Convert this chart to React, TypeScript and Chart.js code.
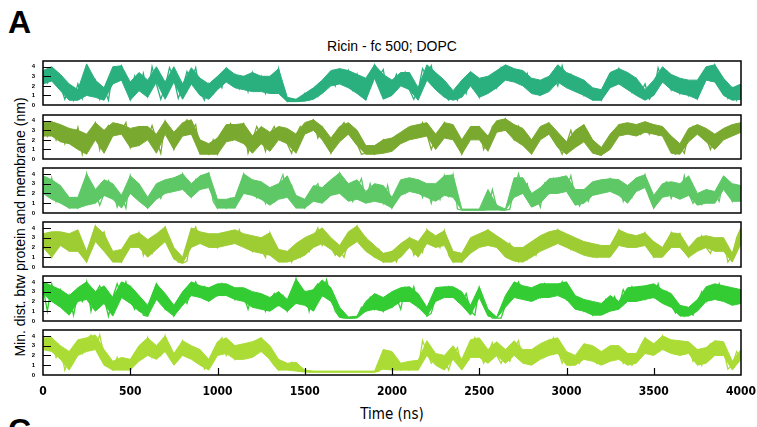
import React, { useEffect, useRef } from "react";
import { Chart, registerables } from "chart.js";

Chart.register(...registerables);

// ---------- data ----------
const TITLE = "Ricin - fc 500; DOPC";
const X_TITLE = "Time (ns)";
const Y_TITLE = "Min. dist. btw protein and membrane (nm)";
const TIME_STEP_NS = 25; // sampling of the raw traces
const ENV_STEP_NS = 50; // sampling of the read-off band envelopes
const X_TICKS = [0, 500, 1000, 1500, 2000, 2500, 3000, 3500, 4000];
const Y_TICKS = [0, 1, 2, 3, 4];

// raw traces (nm), every 25 ns
const SERIES_1 = [
  3.0, 2.3, 3.8, 2.8, 2.0, 0.6, 1.8, 0.5, 2.2, 0.7,
  3.9, 1.5, 2.6, 0.6, 1.8, 0.5, 3.6, 2.8, 4.1, 2.5,
  0.6, 3.0, 1.6, 3.3, 1.0, 4.0, 2.2, 0.6, 1.9, 3.9,
  2.8, 0.7, 1.8, 3.5, 2.4, 3.9, 1.4, 0.5, 2.2, 1.2,
  2.8, 1.8, 3.8, 2.6, 3.2, 1.7, 2.9, 1.4, 3.4, 1.9,
  3.0, 1.2, 2.6, 1.5, 3.8, 1.0, 0.4, 0.5, 0.4, 0.5,
  1.2, 0.5, 1.6, 0.9, 2.3, 1.8, 3.3, 2.0, 3.7, 2.4,
  3.6, 1.6, 3.2, 1.3, 0.6, 2.8, 4.2, 3.0, 3.7, 1.0,
  1.8, 3.2, 2.2, 3.4, 1.6, 0.6, 1.5, 3.8, 3.0, 4.1,
  2.0, 2.8, 1.0, 0.5, 1.3, 0.5, 2.4, 1.2, 3.3, 2.0,
  0.8, 2.6, 1.4, 2.9, 1.8, 3.9, 3.0, 3.7, 2.8, 3.6,
  2.2, 3.3, 1.5, 2.5, 1.1, 2.7, 1.6, 3.0, 2.0, 4.1,
  2.4, 3.2, 1.5, 2.5, 1.0, 2.0, 0.6, 1.5, 0.5, 2.0,
  3.2, 2.2, 3.8, 2.6, 3.3, 1.4, 2.7, 1.2, 2.2, 0.6,
  1.3, 3.9, 2.6, 3.5, 1.6, 2.8, 1.2, 2.4, 1.0, 2.2,
  0.7, 2.5, 3.6, 2.6, 4.2, 3.0, 2.2, 0.7, 1.8, 0.5,
  1.8,
];
const SERIES_2 = [
  3.6, 2.4, 3.8, 2.0, 3.4, 1.6, 3.1, 1.8, 3.3, 0.5,
  2.4, 3.0, 3.8, 1.0, 2.8, 3.5, 2.6, 3.6, 2.9, 3.8,
  1.2, 2.6, 1.5, 3.3, 2.2, 3.5, 2.0, 0.6, 3.9, 2.5,
  1.0, 2.8, 3.5, 4.1, 3.0, 3.6, 0.6, 1.2, 0.5, 2.0,
  0.5, 1.5, 3.0, 3.7, 2.2, 3.0, 3.7, 0.6, 2.0, 3.4,
  2.4, 0.8, 2.6, 3.4, 2.2, 3.2, 1.6, 0.6, 2.5, 3.4,
  2.8, 3.8, 4.1, 2.2, 3.3, 1.8, 0.6, 1.8, 3.2, 3.8,
  2.6, 3.0, 1.6, 0.5, 0.6, 1.2, 0.5, 1.4, 2.0, 0.8,
  1.5, 2.4, 1.8, 3.0, 2.2, 3.3, 2.5, 3.8, 2.6, 1.0,
  2.2, 3.0, 3.8, 2.4, 3.2, 2.0, 0.5, 1.8, 3.0, 2.2,
  3.3, 1.0, 2.0, 3.4, 3.9, 3.0, 4.2, 3.2, 2.0, 3.4,
  1.6, 2.0, 0.6, 1.8, 3.2, 2.6, 3.7, 2.4, 1.5, 0.5,
  1.6, 3.0, 1.5, 2.8, 3.5, 1.8, 1.0, 0.5, 0.4, 1.2,
  2.4, 1.8, 3.5, 2.6, 3.6, 2.8, 3.4, 2.6, 3.8, 2.6,
  3.4, 2.5, 3.2, 2.2, 0.8, 0.5, 1.4, 0.6, 2.6, 3.4,
  2.8, 3.2, 2.2, 1.0, 2.4, 2.0, 3.0, 2.5, 3.5, 2.8,
  3.8,
];
const SERIES_3 = [
  3.0, 2.0, 3.6, 1.2, 2.6, 1.0, 0.5, 1.4, 0.5, 1.6,
  4.0, 1.2, 2.2, 0.8, 2.0, 3.3, 2.4, 0.6, 1.8, 0.5,
  3.8, 2.2, 2.9, 1.2, 0.5, 1.0, 2.2, 1.5, 3.0, 2.2,
  3.5, 2.6, 4.0, 2.0, 1.6, 3.4, 2.6, 3.8, 4.1, 1.2,
  0.5, 1.3, 0.5, 1.5, 0.6, 2.4, 4.0, 2.4, 3.3, 1.6,
  2.8, 1.0, 2.2, 1.2, 2.8, 3.9, 1.8, 2.8, 0.6, 1.2,
  0.5, 1.4, 2.4, 3.0, 1.2, 2.3, 2.0, 3.2, 4.1, 1.8,
  2.8, 1.2, 2.5, 3.5, 1.2, 3.0, 1.5, 2.6, 1.0, 2.8,
  0.5, 1.4, 2.8, 2.0, 3.5, 2.4, 3.3, 1.6, 2.8, 1.0,
  2.6, 1.4, 3.8, 1.8, 3.9, 0.4, 0.3, 0.3, 0.3, 0.3,
  0.3, 0.3, 0.4, 2.4, 0.6, 0.3, 0.3, 0.4, 2.5, 4.0,
  2.4, 3.0, 0.8, 1.8, 0.6, 3.0, 2.0, 3.5, 2.2, 3.2,
  2.4, 3.8, 1.6, 0.7, 2.0, 1.2, 2.6, 2.0, 3.3, 2.2,
  3.5, 2.4, 3.2, 1.2, 2.6, 1.6, 3.4, 2.6, 3.9, 1.6,
  0.5, 1.4, 2.8, 3.2, 1.5, 2.6, 1.6, 3.8, 2.0, 1.0,
  1.8, 0.9, 2.2, 1.2, 2.0, 1.2, 3.6, 2.8, 1.2, 2.6,
  1.6,
];
const SERIES_4 = [
  3.0, 2.2, 1.0, 3.5, 2.4, 3.0, 1.8, 3.4, 2.2, 1.2,
  0.5, 2.8, 4.2, 3.0, 3.6, 1.6, 0.6, 1.2, 0.5, 2.4,
  3.0, 2.2, 3.5, 1.2, 2.6, 1.4, 2.8, 3.4, 4.1, 1.8,
  1.0, 0.5, 0.4, 0.6, 3.2, 4.1, 2.8, 3.4, 2.2, 3.0,
  2.0, 3.2, 2.4, 3.5, 2.6, 3.8, 2.2, 3.0, 1.6, 2.8,
  1.8, 1.0, 3.5, 2.2, 1.0, 0.6, 1.4, 0.5, 1.6, 1.0,
  2.6, 1.6, 3.0, 4.0, 2.2, 2.8, 2.0, 1.2, 1.8, 1.0,
  2.6, 3.5, 4.2, 2.4, 3.0, 1.6, 1.0, 1.8, 0.5, 1.2,
  1.6, 0.5, 1.6, 2.4, 3.0, 1.2, 2.2, 1.5, 3.8, 2.6,
  3.0, 2.0, 3.7, 1.2, 0.5, 1.3, 0.5, 1.2, 2.0, 3.0,
  2.2, 3.4, 3.8, 2.4, 3.0, 2.0, 1.2, 2.4, 1.0, 0.5,
  1.8, 0.8, 2.2, 1.2, 3.0, 2.2, 3.4, 2.6, 3.8, 2.6,
  3.2, 1.8, 2.8, 1.5, 2.4, 1.2, 2.0, 1.0, 1.8, 1.2,
  2.0, 2.8, 3.8, 2.4, 3.2, 2.2, 3.0, 2.4, 3.5, 1.8,
  1.0, 2.2, 1.2, 1.8, 3.5, 2.2, 3.4, 1.6, 1.0, 1.8,
  2.4, 3.2, 2.0, 1.4, 2.6, 1.8, 2.8, 0.5, 1.2, 3.0,
  4.0,
];
const SERIES_5 = [
  3.4, 1.0, 3.8, 2.2, 3.2, 1.2, 2.6, 0.6, 2.8, 2.0,
  4.0, 1.0, 2.8, 3.6, 2.4, 0.5, 2.4, 3.8, 2.6, 4.0,
  2.2, 1.2, 2.4, 0.6, 0.5, 2.6, 3.8, 2.8, 1.2, 2.0,
  0.5, 1.6, 2.8, 1.8, 3.2, 4.0, 2.8, 3.5, 2.2, 3.2,
  2.6, 3.8, 2.8, 3.4, 2.2, 3.2, 2.6, 1.2, 2.8, 1.6,
  2.6, 1.0, 2.0, 2.8, 1.6, 2.6, 1.0, 1.8, 4.3, 2.2,
  3.0, 1.0, 3.2, 3.8, 2.6, 4.2, 2.4, 1.0, 0.4, 0.3,
  0.3, 0.3, 0.4, 1.4, 1.0, 2.4, 1.2, 2.2, 1.0, 2.6,
  1.4, 2.4, 1.2, 3.4, 2.2, 3.5, 1.4, 2.0, 0.5, 0.8,
  2.4, 3.4, 2.6, 3.5, 2.6, 3.2, 1.8, 2.8, 1.0, 0.6,
  3.4, 1.6, 0.8, 0.3, 0.3, 0.3, 1.6, 2.4, 3.2, 4.0,
  2.6, 3.4, 2.2, 3.2, 2.4, 3.8, 2.8, 3.6, 2.8, 4.0,
  2.2, 3.0, 1.5, 2.0, 1.0, 1.8, 0.6, 1.6, 0.8, 2.2,
  1.2, 2.5, 1.5, 3.2, 2.2, 3.5, 2.6, 3.4, 2.2, 3.0,
  2.4, 3.8, 2.0, 3.0, 1.6, 0.8, 1.4, 0.5, 1.2, 0.6,
  1.8, 3.0, 2.0, 3.5, 2.4, 3.8, 2.2, 3.4, 1.8, 3.2,
  2.4,
];
const SERIES_6 = [
  3.2, 2.6, 3.8, 1.8, 2.8, 0.5, 1.8, 2.4, 3.4, 2.2,
  3.6, 4.1, 2.8, 4.1, 2.0, 1.0, 0.5, 1.8, 0.6, 1.2,
  0.5, 1.4, 2.8, 1.8, 3.8, 1.8, 2.8, 2.0, 4.0, 2.6,
  1.2, 2.4, 3.5, 2.2, 2.8, 1.4, 2.4, 0.6, 1.2, 2.4,
  3.2, 3.8, 2.0, 2.8, 1.6, 2.6, 1.8, 3.0, 2.2, 3.4,
  3.8, 2.4, 1.6, 1.0, 0.5, 1.2, 0.6, 1.3, 0.5, 0.4,
  0.4, 0.3, 0.3, 0.3, 0.3, 0.3, 0.3, 0.3, 0.3, 0.3,
  0.3, 0.3, 0.3, 0.3, 0.3, 0.3, 0.3, 0.4, 2.4, 1.2,
  2.2, 1.0, 0.5, 0.8, 0.5, 1.2, 0.6, 3.5, 2.4, 1.2,
  1.8, 0.8, 1.6, 0.5, 2.0, 2.8, 0.8, 1.4, 2.4, 3.8,
  2.6, 1.2, 2.2, 3.3, 2.0, 1.2, 2.2, 1.4, 2.6, 3.5,
  1.6, 2.4, 1.2, 2.8, 1.8, 3.2, 2.2, 3.8, 2.6, 1.2,
  2.2, 1.0, 1.8, 1.2, 3.0, 1.8, 2.8, 1.2, 2.0, 1.4,
  2.8, 1.8, 2.6, 1.2, 2.0, 1.0, 1.8, 3.0, 3.8, 2.4,
  3.0, 2.6, 4.0, 3.0, 3.4, 2.2, 3.2, 2.4, 3.0, 1.4,
  2.2, 1.0, 2.6, 3.2, 2.2, 3.4, 2.6, 0.6, 1.0, 2.4,
  1.6,
];

// band envelopes (nm), every 50 ns
const LOW_1 = [
  2.2, 2.5, 1.5, 0.5, 0.5, 1.0, 0.8, 0.5, 2.2, 2.6,
  0.5, 1.5, 0.8, 2.4, 0.6, 2.4, 0.6, 2.2, 1.0, 0.6,
  1.6, 2.4, 1.8, 1.6, 1.4, 1.4, 1.2, 1.2, 0.35, 0.35,
  0.4, 0.6, 1.2, 2.0, 2.2, 1.8, 1.2, 0.5, 2.8, 0.6,
  1.0, 2.0, 1.6, 0.5, 2.6, 1.6, 0.8, 0.5, 0.8, 2.0,
  0.8, 1.2, 1.8, 2.6, 2.4, 2.0, 1.2, 1.0, 1.4, 2.4,
  1.8, 1.4, 1.0, 0.5, 0.5, 1.8, 2.2, 1.6, 1.0, 0.5,
  1.0, 2.4, 1.6, 1.2, 1.0, 0.6, 2.6, 2.4, 1.0, 0.5,
  0.6,
];
const HIGH_1 = [
  3.6, 4.0, 3.2, 2.2, 1.6, 4.3, 2.6, 1.8, 4.0, 4.1,
  2.4, 3.4, 2.6, 4.0, 2.4, 4.0, 2.2, 3.9, 2.8, 2.2,
  3.0, 3.9, 3.2, 3.0, 3.4, 3.0, 3.0, 3.8, 0.8, 0.6,
  1.2, 1.8, 2.6, 3.6, 3.8, 3.6, 3.2, 2.8, 4.2, 3.2,
  2.6, 3.4, 3.4, 1.8, 4.2, 3.4, 2.6, 1.5, 2.6, 3.5,
  2.8, 3.0, 3.6, 4.2, 3.8, 3.6, 2.8, 2.6, 3.0, 4.2,
  3.4, 3.0, 2.6, 1.8, 1.6, 3.4, 3.8, 3.4, 2.8, 1.6,
  2.6, 4.0, 3.2, 2.8, 2.6, 2.6, 4.0, 4.2, 2.8, 1.8,
  2.2,
];
const LOW_2 = [
  2.4, 2.4, 1.8, 1.6, 1.0, 0.5, 2.0, 0.6, 2.4, 2.6,
  1.2, 1.4, 2.0, 0.6, 2.6, 1.0, 2.4, 2.6, 0.5, 0.5,
  0.5, 1.8, 2.0, 1.6, 0.6, 1.6, 0.8, 2.0, 1.6, 0.6,
  2.6, 3.0, 2.0, 0.6, 1.8, 2.6, 1.4, 0.5, 0.5, 0.6,
  0.8, 1.6, 2.0, 2.2, 2.4, 1.0, 2.2, 2.0, 0.5, 2.0,
  2.0, 0.8, 2.8, 3.0, 2.0, 1.4, 0.5, 2.0, 2.6, 1.2,
  0.5, 1.2, 1.8, 0.6, 0.4, 1.0, 2.4, 2.6, 2.4, 2.8,
  2.6, 2.4, 0.6, 0.5, 1.8, 2.6, 1.8, 1.0, 2.0, 2.4,
  2.8,
];
const HIGH_2 = [
  3.8, 3.9, 3.6, 3.2, 3.0, 2.6, 3.8, 3.0, 3.8, 3.6,
  3.2, 3.4, 3.4, 2.6, 4.0, 2.8, 3.8, 4.1, 2.0, 1.6,
  2.2, 3.6, 3.6, 3.7, 2.4, 3.4, 2.8, 3.4, 3.2, 2.6,
  3.8, 4.1, 3.4, 2.2, 3.4, 3.8, 3.0, 1.4, 1.4, 2.0,
  2.2, 2.8, 3.4, 3.6, 3.8, 2.6, 3.8, 3.6, 2.0, 3.4,
  3.4, 2.4, 4.0, 4.2, 3.6, 3.2, 2.0, 3.4, 3.8, 2.8,
  1.8, 3.0, 3.6, 2.0, 1.2, 2.6, 3.6, 3.8, 3.6, 3.9,
  3.6, 3.4, 2.4, 1.6, 3.2, 3.6, 3.2, 2.6, 3.2, 3.6,
  3.8,
];
const LOW_3 = [
  2.0, 1.4, 1.0, 0.5, 0.5, 0.8, 1.0, 1.8, 1.4, 0.5,
  2.0, 1.2, 0.5, 1.4, 2.0, 2.2, 2.4, 1.6, 2.4, 2.6,
  0.5, 0.5, 0.5, 2.0, 1.8, 1.4, 0.8, 1.4, 1.6, 0.5,
  0.5, 1.2, 1.0, 1.8, 2.0, 1.2, 1.4, 1.0, 1.2, 1.0,
  0.5, 1.8, 2.2, 2.0, 1.6, 1.2, 1.8, 1.6, 0.3, 0.3,
  0.3, 0.3, 0.3, 0.3, 1.6, 2.0, 0.6, 1.0, 2.0, 2.0,
  2.2, 0.8, 1.0, 1.8, 2.0, 2.2, 1.8, 1.0, 2.2, 2.6,
  0.5, 1.6, 1.8, 1.4, 1.8, 0.8, 1.0, 1.0, 2.4, 1.2,
  1.2,
];
const HIGH_3 = [
  3.8, 3.4, 2.8, 1.6, 1.6, 4.0, 2.4, 3.4, 3.0, 1.8,
  3.8, 3.0, 1.6, 3.0, 3.4, 3.6, 4.0, 3.0, 3.8, 4.1,
  1.4, 1.4, 1.6, 4.0, 3.4, 3.2, 2.6, 3.0, 3.8, 1.8,
  1.4, 2.8, 2.6, 3.4, 4.1, 3.0, 3.4, 2.2, 3.0, 2.8,
  1.6, 3.4, 3.6, 3.4, 3.0, 3.0, 3.8, 3.9, 0.4, 0.4,
  0.4, 2.4, 0.8, 0.4, 3.6, 3.6, 2.0, 2.6, 3.5, 3.6,
  3.8, 2.4, 2.4, 3.2, 3.4, 3.5, 3.4, 2.8, 3.6, 3.9,
  1.8, 3.0, 3.2, 3.0, 3.8, 2.0, 2.4, 2.2, 3.8, 3.0,
  2.8,
];
const LOW_4 = [
  2.0, 1.0, 2.2, 1.6, 1.6, 0.5, 2.6, 1.6, 0.5, 0.5,
  2.0, 2.0, 1.0, 1.8, 2.6, 0.8, 0.4, 2.0, 2.4, 2.0,
  2.0, 2.2, 2.4, 2.0, 1.6, 1.4, 1.2, 0.5, 0.5, 0.8,
  1.2, 2.0, 2.4, 1.8, 1.0, 2.0, 2.6, 1.6, 1.0, 0.5,
  0.5, 1.0, 2.0, 1.0, 2.4, 2.0, 2.2, 0.5, 0.5, 1.4,
  2.0, 2.2, 2.0, 1.0, 0.6, 0.5, 1.0, 1.6, 2.0, 2.4,
  2.0, 1.6, 1.2, 1.0, 1.0, 1.0, 2.2, 2.0, 2.0, 2.2,
  1.0, 1.0, 2.0, 2.0, 1.0, 1.6, 2.0, 1.6, 1.6, 0.5,
  2.4,
];
const HIGH_4 = [
  3.4, 3.6, 3.6, 3.4, 3.8, 1.6, 4.2, 3.4, 1.6, 1.8,
  3.2, 3.5, 2.8, 3.4, 4.1, 2.0, 1.0, 4.0, 3.6, 3.4,
  3.4, 3.6, 3.8, 3.4, 3.2, 3.0, 3.5, 1.8, 1.6, 2.4,
  3.0, 3.4, 4.0, 3.0, 2.2, 3.6, 4.2, 3.0, 2.2, 1.4,
  1.6, 2.4, 3.0, 2.6, 3.8, 3.2, 3.7, 1.6, 1.4, 3.0,
  3.4, 3.8, 3.2, 2.6, 2.0, 2.0, 2.6, 3.2, 3.6, 3.8,
  3.4, 3.0, 2.6, 2.4, 2.2, 2.2, 3.8, 3.4, 3.2, 3.5,
  2.6, 2.0, 3.5, 3.4, 2.0, 3.0, 3.2, 3.0, 3.0, 1.4,
  4.0,
];
const LOW_5 = [
  2.8, 2.0, 1.4, 0.6, 2.0, 2.2, 1.0, 1.8, 0.5, 2.4,
  1.8, 1.0, 0.5, 2.2, 1.2, 0.5, 1.6, 2.6, 2.4, 2.0,
  2.6, 2.6, 2.2, 2.0, 1.4, 1.2, 1.0, 1.6, 1.0, 1.8,
  1.6, 1.0, 2.6, 2.0, 0.4, 0.3, 0.3, 1.0, 1.2, 1.0,
  1.4, 2.0, 2.0, 1.4, 0.5, 2.0, 2.4, 2.4, 1.6, 0.6,
  2.4, 0.5, 0.3, 1.4, 2.4, 2.2, 2.0, 2.4, 2.4, 2.6,
  2.2, 1.2, 1.0, 0.6, 0.6, 1.0, 1.2, 2.0, 2.0, 2.2,
  2.4, 1.8, 1.4, 0.5, 0.5, 1.0, 2.0, 2.2, 2.0, 1.6,
  1.8,
];
const HIGH_5 = [
  4.0, 3.6, 3.2, 2.6, 3.4, 4.0, 3.0, 3.6, 2.4, 4.0,
  3.6, 2.6, 1.6, 3.8, 2.8, 1.6, 3.0, 4.0, 3.6, 3.4,
  3.8, 3.8, 3.4, 3.4, 3.0, 2.8, 2.4, 3.0, 2.2, 4.3,
  3.0, 3.2, 4.2, 3.4, 1.4, 0.4, 0.5, 2.0, 2.8, 2.4,
  3.0, 3.4, 3.5, 2.8, 1.4, 3.4, 3.5, 3.5, 3.0, 1.6,
  3.5, 1.2, 0.4, 2.6, 4.0, 3.6, 3.4, 3.8, 3.8, 3.8,
  4.0, 2.6, 2.2, 2.0, 1.8, 2.6, 2.0, 3.4, 3.5, 3.6,
  3.8, 3.2, 2.8, 1.6, 1.4, 2.2, 3.5, 3.8, 3.6, 3.4,
  3.2,
];
const LOW_6 = [
  2.6, 2.4, 1.6, 0.5, 2.0, 2.4, 2.6, 1.0, 0.5, 0.5,
  0.5, 1.4, 2.0, 1.6, 2.4, 1.0, 2.0, 1.6, 1.0, 0.5,
  2.0, 2.2, 1.6, 1.6, 1.8, 2.4, 1.6, 0.5, 0.5, 0.4,
  0.3, 0.3, 0.3, 0.3, 0.3, 0.3, 0.3, 0.3, 0.3, 0.6,
  0.5, 0.5, 0.5, 0.5, 2.0, 1.0, 0.5, 1.6, 0.5, 1.8,
  1.8, 1.2, 2.0, 1.2, 2.0, 1.2, 1.0, 1.6, 2.0, 2.2,
  1.0, 1.0, 1.6, 1.4, 1.0, 1.4, 1.6, 1.0, 1.2, 2.2,
  2.0, 2.6, 2.2, 2.0, 2.2, 1.0, 1.2, 2.0, 2.0, 0.5,
  1.6,
];
const HIGH_6 = [
  3.8, 3.8, 3.0, 2.4, 3.6, 3.8, 4.1, 2.6, 1.4, 1.8,
  1.6, 3.0, 3.8, 3.0, 4.0, 2.2, 3.5, 3.0, 2.6, 1.6,
  3.4, 3.8, 3.0, 3.2, 3.4, 3.8, 3.0, 1.6, 1.2, 1.3,
  0.5, 0.4, 0.4, 0.4, 0.4, 0.4, 0.4, 0.4, 0.4, 2.6,
  2.4, 1.2, 1.4, 1.5, 3.5, 2.2, 2.0, 3.0, 1.6, 3.6,
  3.8, 2.6, 3.4, 2.6, 3.5, 2.6, 2.6, 3.2, 3.6, 3.8,
  2.4, 2.0, 3.2, 3.0, 2.4, 3.0, 3.0, 2.2, 2.2, 3.8,
  3.2, 4.0, 3.6, 3.5, 3.4, 2.6, 2.8, 3.5, 3.4, 1.4,
  2.6,
];

const ALL_SERIES = [SERIES_1, SERIES_2, SERIES_3, SERIES_4, SERIES_5, SERIES_6];
const ALL_LOW = [LOW_1, LOW_2, LOW_3, LOW_4, LOW_5, LOW_6];
const ALL_HIGH = [HIGH_1, HIGH_2, HIGH_3, HIGH_4, HIGH_5, HIGH_6];
const SERIES_COLORS = ["#2aaf7f", "#7aa92f", "#5dc865", "#9ecd33", "#33cc33", "#aadc35"];

// ---------- layout ----------
const PANEL_TOPS = [61, 115, 168, 222, 276, 330];
const PANEL_BOTTOMS = [105, 159, 213, 267, 321, 375];
const PLOT_LEFT = 43;
const PLOT_RIGHT = 741;
const W = 757;
const PAD = 3;
const X_AXIS_H = 26;

const SANS = "'Liberation Sans', Arial, sans-serif";
const NARROW = "'Liberation Sans Narrow', 'DejaVu Sans Condensed', 'Liberation Sans', sans-serif";

const framePlugin = {
  id: "frame",
  afterDatasetsDraw(chart: any, _args: any, opts: any) {
    const { ctx, chartArea: a, scales } = chart;
    ctx.save();
    ctx.strokeStyle = "#000";
    ctx.lineWidth = 1.5;
    ctx.strokeRect(a.left, a.top, a.right - a.left, a.bottom - a.top);
    ctx.lineWidth = 1.2;
    ctx.beginPath();
    for (const v of Y_TICKS) {
      if (v === 0) continue;
      const y = Math.round(scales.y.getPixelForValue(v)) + 0.5;
      ctx.moveTo(a.left, y);
      ctx.lineTo(a.left + 8, y);
    }
    if (opts && opts.xTicks) {
      for (const v of X_TICKS) {
        if (v === X_TICKS[0] || v === X_TICKS[X_TICKS.length - 1]) continue;
        const x = Math.round(scales.x.getPixelForValue(v)) + 0.5;
        ctx.moveTo(x, a.bottom);
        ctx.lineTo(x, a.bottom - 7);
      }
    }
    ctx.stroke();
    ctx.restore();
  },
};

export default function App() {
  const refs = useRef<(HTMLCanvasElement | null)[]>([]);

  useEffect(() => {
    const charts: Chart[] = [];
    ALL_SERIES.forEach((values, idx) => {
      const canvas = refs.current[idx];
      if (!canvas) return;
      const isLast = idx === ALL_SERIES.length - 1;
      const color = SERIES_COLORS[idx];
      const chart = new Chart(canvas, {
        type: "line",
        data: {
          datasets: [
            {
              data: ALL_LOW[idx].map((v, j) => ({ x: j * ENV_STEP_NS, y: v })),
              borderColor: color,
              borderWidth: 1,
              pointRadius: 0,
              tension: 0,
              fill: false,
            },
            {
              data: ALL_HIGH[idx].map((v, j) => ({ x: j * ENV_STEP_NS, y: v })),
              borderColor: color,
              backgroundColor: color,
              borderWidth: 1,
              pointRadius: 0,
              tension: 0,
              fill: "-1",
            },
            {
              data: values.map((v, i) => ({ x: i * TIME_STEP_NS, y: v })),
              borderColor: color,
              borderWidth: 1.3,
              pointRadius: 0,
              tension: 0,
              fill: false,
            },
          ],
        },
        options: {
          animation: false,
          responsive: false,
          maintainAspectRatio: false,
          events: [],
          layout: {
            padding: { left: 0, right: W - PLOT_RIGHT, top: PAD, bottom: isLast ? 0 : PAD },
          },
          plugins: {
            legend: { display: false },
            tooltip: { enabled: false },
            // @ts-ignore
            frame: { xTicks: isLast },
          },
          scales: {
            x: {
              type: "linear",
              min: X_TICKS[0],
              max: X_TICKS[X_TICKS.length - 1],
              display: isLast,
              afterBuildTicks: (s: any) => {
                s.ticks = X_TICKS.map((v) => ({ value: v }));
              },
              afterFit: (s: any) => {
                if (isLast) s.height = X_AXIS_H;
                s.paddingLeft = 0;
                s.paddingRight = 0;
              },
              grid: { display: false, drawTicks: false },
              border: { display: false },
              ticks: {
                padding: 10,
                color: "#000",
                maxRotation: 0,
                autoSkip: false,
                callback: (v: any) => String(v),
                font: { family: NARROW, size: 12, weight: "bold" },
              },
            },
            y: {
              type: "linear",
              min: 0,
              max: 4.6,
              afterBuildTicks: (s: any) => {
                s.ticks = Y_TICKS.map((v) => ({ value: v }));
              },
              afterFit: (s: any) => {
                s.width = PLOT_LEFT;
                s.paddingTop = 0;
                s.paddingBottom = 0;
              },
              grid: { display: false, drawTicks: false },
              border: { display: false },
              ticks: {
                padding: 8,
                color: "#000",
                autoSkip: false,
                callback: (v: any) => String(v),
                font: { family: SANS, size: 6, weight: "bold" },
              },
            },
          },
        },
        plugins: [framePlugin],
      } as any);
      charts.push(chart);
    });
    return () => charts.forEach((c) => c.destroy());
  }, []);

  return (
    <div
      style={{
        position: "absolute",
        left: 0,
        top: 0,
        width: W,
        height: 427,
        overflow: "hidden",
        background: "#fff",
        fontFamily: SANS,
        color: "#000",
      }}
    >
      <div style={{ position: "absolute", left: 8, top: 6, fontSize: 32, fontWeight: "bold", lineHeight: "32px" }}>A</div>
      <div style={{ position: "absolute", left: 8, top: 414, fontSize: 32, fontWeight: "bold", lineHeight: "32px" }}>C</div>
      <div
        style={{
          position: "absolute",
          left: (PLOT_LEFT + PLOT_RIGHT) / 2,
          top: 38,
          transform: "translateX(-50%)",
          fontSize: 14,
          lineHeight: "16px",
          whiteSpace: "nowrap",
        }}
      >
        {TITLE}
      </div>
      <div
        style={{
          position: "absolute",
          left: 20,
          top: 227,
          transform: "translate(-50%, -50%) rotate(-90deg)",
          fontSize: 14,
          lineHeight: "16px",
          whiteSpace: "nowrap",
        }}
      >
        {Y_TITLE}
      </div>
      <div
        style={{
          position: "absolute",
          left: (PLOT_LEFT + PLOT_RIGHT) / 2,
          top: 406,
          transform: "translateX(-50%)",
          fontSize: 15,
          lineHeight: "17px",
          fontFamily: NARROW,
          whiteSpace: "nowrap",
        }}
      >
        {X_TITLE}
      </div>
      {ALL_SERIES.map((_, idx) => {
        const isLast = idx === ALL_SERIES.length - 1;
        const top = PANEL_TOPS[idx] - PAD;
        const h = PANEL_BOTTOMS[idx] - PANEL_TOPS[idx] + PAD + (isLast ? X_AXIS_H : PAD);
        return (
          <canvas
            key={idx}
            ref={(el) => {
              refs.current[idx] = el;
            }}
            width={W}
            height={h}
            style={{ position: "absolute", left: 0, top, width: W, height: h }}
          />
        );
      })}
    </div>
  );
}
